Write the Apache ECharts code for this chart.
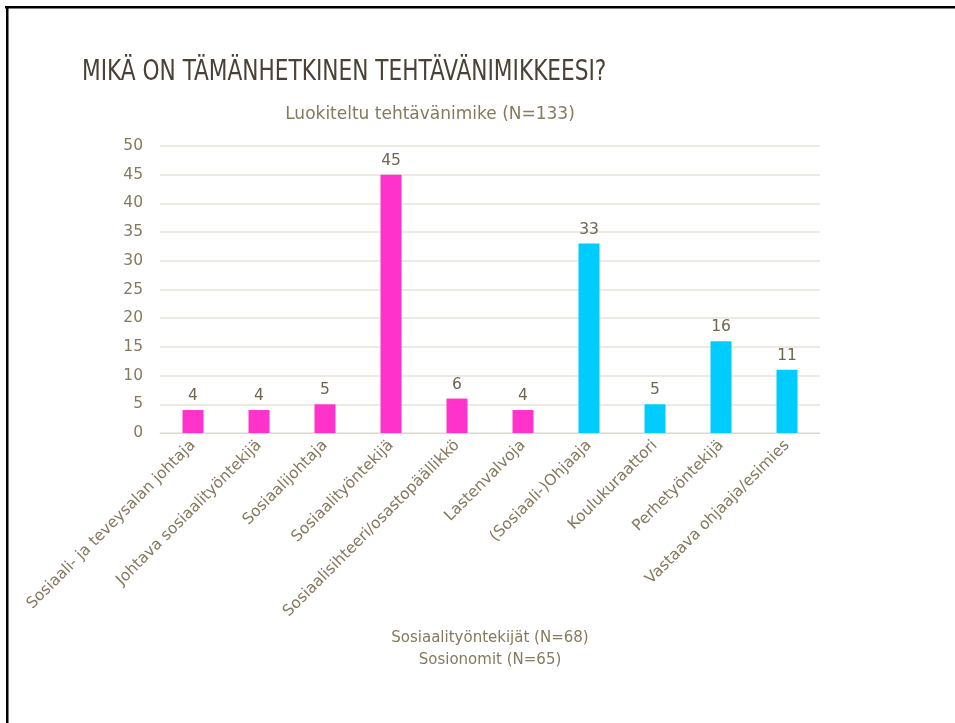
<!DOCTYPE html>
<html>
<head>
<meta charset="utf-8">
<script src="https://cdn.jsdelivr.net/npm/echarts@6/dist/echarts.min.js"></script>
<style>
html,body{margin:0;padding:0;background:#fff;}
#chart{width:955px;height:723px;}
</style>
</head>
<body>
<div id="chart"></div>
<script>
var categories = [
  'Sosiaali- ja teveysalan johtaja',
  'Johtava sosiaalityöntekijä',
  'Sosiaalijohtaja',
  'Sosiaalityöntekijä',
  'Sosiaalisihteeri/osastopäällikkö',
  'Lastenvalvoja',
  '(Sosiaali-)Ohjaaja',
  'Koulukuraattori',
  'Perhetyöntekijä',
  'Vastaava ohjaaja/esimies'
];
var values = [4, 4, 5, 45, 6, 4, 33, 5, 16, 11];
var groups = ['sos', 'sos', 'sos', 'sos', 'sos', 'sos', 'ohj', 'ohj', 'ohj', 'ohj'];
var groupColors = { sos: '#FF33CC', ohj: '#00CCFF' };
var yTicks = [0, 5, 10, 15, 20, 25, 30, 35, 40, 45, 50];
var titleText = 'MIKÄ ON TÄMÄNHETKINEN TEHTÄVÄNIMIKKEESI?';
var subtitleText = 'Luokiteltu tehtävänimike (N=133)';
var noteLines = ['Sosiaalityöntekijät (N=68)', 'Sosionomit (N=65)'];

var textColor = '#85795F';
var font = '"DejaVu Sans", sans-serif';

var chart = echarts.init(document.getElementById('chart'));
chart.setOption({
  backgroundColor: '#ffffff',
  animation: false,
  grid: { left: 160, right: 135, top: 146, bottom: 290, containLabel: false },
  xAxis: {
    type: 'category',
    data: categories,
    axisLine: { lineStyle: { color: '#D9D9D9', width: 1 } },
    axisTick: { show: false },
    axisLabel: {
      rotate: 45, interval: 0, color: textColor, fontSize: 15.5,
      fontFamily: font, margin: 10
    }
  },
  yAxis: {
    type: 'value',
    min: yTicks[0], max: yTicks[yTicks.length - 1], interval: 5,
    axisLine: { show: false },
    axisTick: { show: false },
    splitLine: { lineStyle: { color: '#E6E3DA', width: 1.5 } },
    axisLabel: { color: textColor, fontSize: 15.5, fontFamily: font, margin: 17 }
  },
  series: [{
    type: 'bar',
    barWidth: 21,
    data: values.map(function (v, i) {
      return { value: v, itemStyle: { color: groupColors[groups[i]] } };
    }),
    label: {
      show: true, position: 'top', distance: 6, color: '#6E6553',
      fontSize: 15.5, fontFamily: font
    }
  }],
  graphic: [
    { type: 'rect', shape: { x: 5, y: 6, width: 950, height: 2.5 }, style: { fill: '#000' } },
    { type: 'rect', shape: { x: 6, y: 6, width: 2.5, height: 717 }, style: { fill: '#000' } },
    {
      type: 'text', left: 82, top: 59,
      scaleX: 0.86,
      style: {
        text: titleText, fill: '#4A4236',
        font: '28px "Liberation Sans Narrow", "DejaVu Sans Condensed", sans-serif'
      }
    },
    {
      type: 'text', x: 430, y: 106,
      style: {
        text: subtitleText, fill: textColor, textAlign: 'center',
        font: '17px ' + font
      }
    },
    {
      type: 'text', x: 490, y: 627,
      style: {
        text: noteLines.join('\n'), fill: textColor, textAlign: 'center',
        font: '15px ' + font, lineHeight: 22
      }
    }
  ]
});
</script>
</body>
</html>
